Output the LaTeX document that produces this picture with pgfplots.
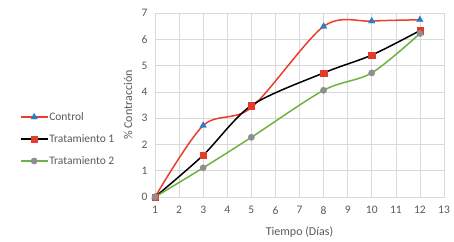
\documentclass[border=0pt]{standalone}
\usepackage{pgfplots}
\pgfplotsset{compat=1.18}
\usepackage{fontspec}
\setmainfont{Carlito}
\definecolor{ctrlred}{HTML}{E8402C}
\definecolor{triblue}{HTML}{2A7BC8}
\definecolor{sqred}{HTML}{E53B2C}
\definecolor{tgreen}{HTML}{6CB33F}
\definecolor{cgray}{HTML}{8E8E92}
\definecolor{txtgray}{HTML}{595959}
\definecolor{gridgray}{HTML}{D9D9D9}
\begin{document}
\begin{tikzpicture}
\begin{axis}[
  scale only axis,
  width=289pt, height=184pt,
  at={(0,0)}, anchor=south west,
  xmin=1, xmax=13, ymin=0, ymax=7,
  xtick={1,2,...,13}, ytick={0,1,...,7},
  grid=major,
  major grid style={gridgray, line width=0.6pt},
  axis line style={gridgray, line width=0.6pt},
  major tick length=0pt,
  tick label style={font=\fontsize{11.5}{13}\selectfont, text=txtgray},
  xticklabel style={yshift=-6pt},
  yticklabel style={xshift=-4pt},
  /pgf/number format/assume math mode=true,
  xlabel={Tiempo (Días)},
  ylabel={\% Contracción},
  label style={font=\fontsize{12}{14}\selectfont, text=txtgray},
  xlabel style={at={(axis description cs:0.5,-0.19)}, anchor=center},
  ylabel style={at={(axis description cs:-0.093,0.5)}, anchor=center},
  legend style={at={(-0.467,0.315)}, anchor=west, draw=none, fill=none,
    font=\fontsize{11.5}{13}\selectfont, text=txtgray, row sep=10.5pt,
    inner sep=0pt, outer sep=0pt,
    nodes={inner sep=1pt},
    legend cell align=left},
  legend image code/.code={\draw[mark repeat=2,mark phase=2] plot coordinates {(0cm,0cm)(0.47cm,0cm)(0.94cm,0cm)};},
]
\addplot[ctrlred, line width=1.5pt, smooth, tension=0.5, mark=triangle*, mark size=3.8pt,
  mark options={fill=triblue, draw=triblue, line width=0.3pt}]
  coordinates {(1,0) (3,2.72) (5,3.40) (8,6.49) (10,6.69) (12,6.74)};
\addlegendentry{Control}
\addplot[black, line width=1.5pt, smooth, tension=0.5, mark=square*, mark size=3.2pt,
  mark options={fill=sqred, draw=sqred, line width=0.3pt}]
  coordinates {(1,0) (3,1.59) (5,3.48) (8,4.72) (10,5.40) (12,6.33)};
\addlegendentry{Tratamiento 1}
\addplot[tgreen, line width=1.5pt, smooth, tension=0.5, mark=*, mark size=3.2pt,
  mark options={fill=cgray, draw=cgray, line width=0.3pt}]
  coordinates {(1,0) (3,1.11) (5,2.27) (8,4.06) (10,4.72) (12,6.22)};
\addlegendentry{Tratamiento 2}
\end{axis}
\pgfresetboundingbox
\path[use as bounding box] (-155pt,-44pt) rectangle (299pt,197pt);
\end{tikzpicture}
\end{document}
